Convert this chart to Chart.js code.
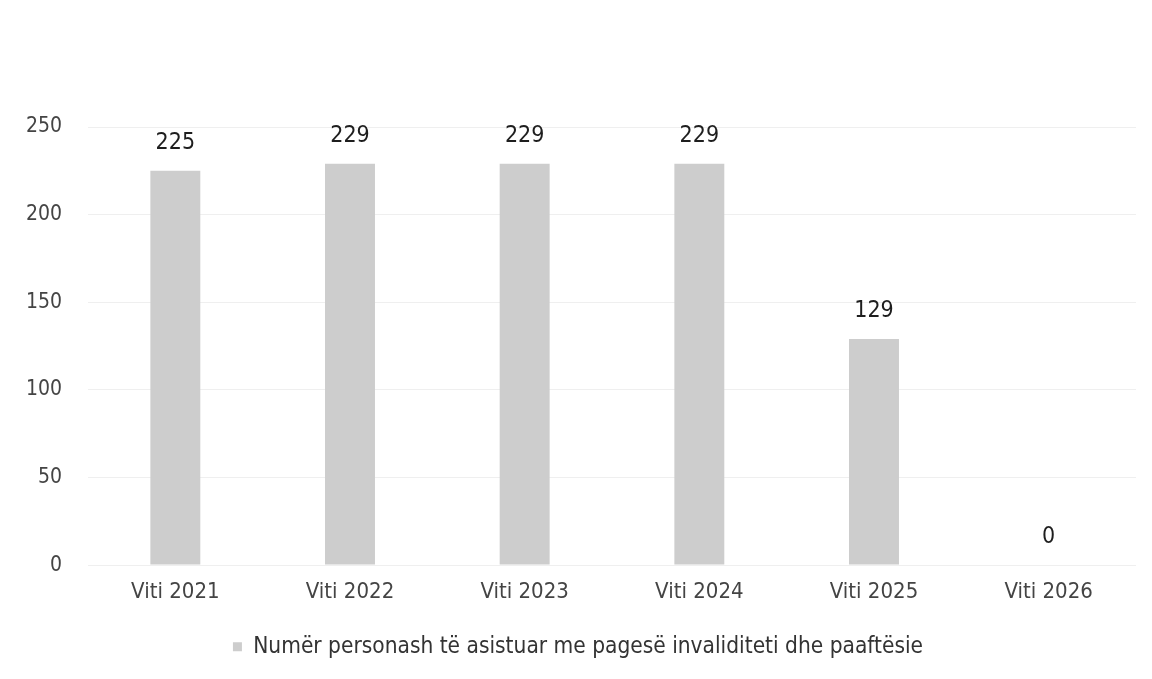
<!DOCTYPE html>
<html>
<head>
<meta charset="utf-8">
<script src="https://cdn.jsdelivr.net/npm/chart.js@4"></script>
<style>
    html, body { margin: 0; padding: 0; background: #ffffff; }
    #wrap { width: 1152px; height: 679px; }
</style>
</head>
<body>
<div id="wrap"><canvas id="chart" width="1152" height="679"></canvas></div>
<script>
const categories = ['Viti 2021', 'Viti 2022', 'Viti 2023', 'Viti 2024', 'Viti 2025', 'Viti 2026'];
const seriesName = 'Numër personash të asistuar me pagesë invaliditeti dhe paaftësie';
const seriesValues = [225, 229, 229, 229, 129, 0];
const yTicks = [0, 50, 100, 150, 200, 250];

const fontFamily = '"DejaVu Sans Condensed", "DejaVu Sans", sans-serif';

// Vlerat mbi shtyllat
const valueLabels = {
    id: 'valueLabels',
    afterDatasetsDraw(chart) {
        const ctx = chart.ctx;
        const meta = chart.getDatasetMeta(0);
        ctx.save();
        ctx.fillStyle = '#1e1e1e';
        ctx.font = '23px ' + fontFamily;
        ctx.textAlign = 'center';
        ctx.textBaseline = 'middle';
        meta.data.forEach((bar, i) => {
            ctx.fillText(String(seriesValues[i]), bar.x, bar.y - 28);
        });
        ctx.restore();
    }
};

new Chart(document.getElementById('chart'), {
    type: 'bar',
    data: {
        labels: categories,
        datasets: [{
            label: seriesName,
            data: seriesValues,
            backgroundColor: '#cdcdcd',
            borderWidth: 0,
            barPercentage: 0.286,
            categoryPercentage: 1.0,
        }],
    },
    options: {
        responsive: false,
        animation: false,
        layout: { padding: { top: 127, right: 16, bottom: 11, left: 20 } },
        plugins: {
            legend: {
                position: 'bottom',
                labels: {
                    boxWidth: 9,
                    boxHeight: 9,
                    padding: 24,
                    color: '#333333',
                    font: { family: fontFamily, size: 22.5 },
                },
            },
            tooltip: { enabled: false },
        },
        scales: {
            x: {
                grid: { display: false },
                border: { display: false },
                ticks: {
                    color: '#444444',
                    font: { family: fontFamily, size: 22 },
                    padding: 6,
                },
            },
            y: {
                min: 0,
                max: 250,
                afterBuildTicks: (scale) => { scale.ticks = yTicks.map(v => ({ value: v })); },
                afterFit: (scale) => { scale.width = 68; },
                grid: { color: '#efefef', drawTicks: false },
                border: { display: false },
                ticks: {
                    color: '#444444',
                    font: { family: fontFamily, size: 21 },
                    padding: 26,
                },
            },
        },
    },
    plugins: [valueLabels],
});
</script>
</body>
</html>
